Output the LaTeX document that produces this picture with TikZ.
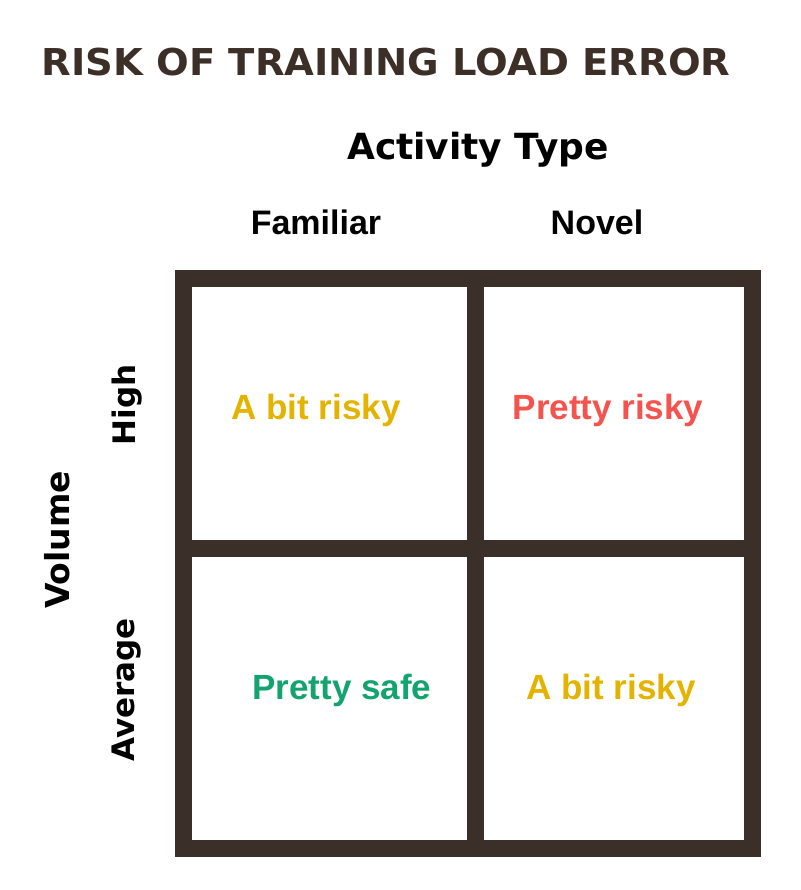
\documentclass[tikz,border=0pt]{standalone}
\usepackage{fontspec}
\setmainfont{Liberation Sans}
\newfontfamily\heavy{DejaVu Sans}
\begin{document}
\begin{tikzpicture}[x=1pt,y=-1pt,
  frame/.style={draw=frm,line width=17pt},
  cell/.style={font=\fontsize{35}{38}\selectfont\bfseries},
  hdr/.style={font=\fontsize{34}{37}\selectfont\bfseries,text=black},
  side/.style={font=\heavy\fontsize{31}{34}\selectfont\bfseries,text=black,rotate=90}]
\definecolor{frm}{HTML}{3B2F29}
\definecolor{ttl}{HTML}{3C2F28}
\definecolor{yel}{HTML}{E4B300}
\definecolor{rd}{HTML}{F5534E}
\definecolor{grn}{HTML}{12A36F}
\useasboundingbox (0,0) rectangle (800,890);
\fill[white] (0,0) rectangle (800,890);
\draw[frame] (183.5,278.5) rectangle (752.5,848);
\draw[frame] (475,278.5) -- (475,848);
\draw[frame] (183.5,548) -- (752.5,548);
\node[font=\heavy\fontsize{37}{40}\selectfont\bfseries,text=ttl,anchor=west,xscale=1.04] (t) at (38,62) {RISK OF TRAINING LOAD ERROR};
\node[font=\heavy\fontsize{36}{39}\selectfont\bfseries] (a) at (478,150) {Activity Type};
\node[hdr] (f) at (316,222) {Familiar};
\node[hdr] (n) at (597,222) {Novel};
\node[side] (h) at (127,405) {High};
\node[side] (av) at (127,690) {Average};
\node[side,font=\heavy\fontsize{33}{36}\selectfont\bfseries] (v) at (57,540) {Volume};
\node[cell,text=yel] (c1) at (316,410) {A bit risky};
\node[cell,text=rd] (c2) at (608,410) {Pretty risky};
\node[cell,text=grn] (c3) at (342,690) {Pretty safe};
\node[cell,text=yel] (c4) at (611,690) {A bit risky};
\end{tikzpicture}
\end{document}
